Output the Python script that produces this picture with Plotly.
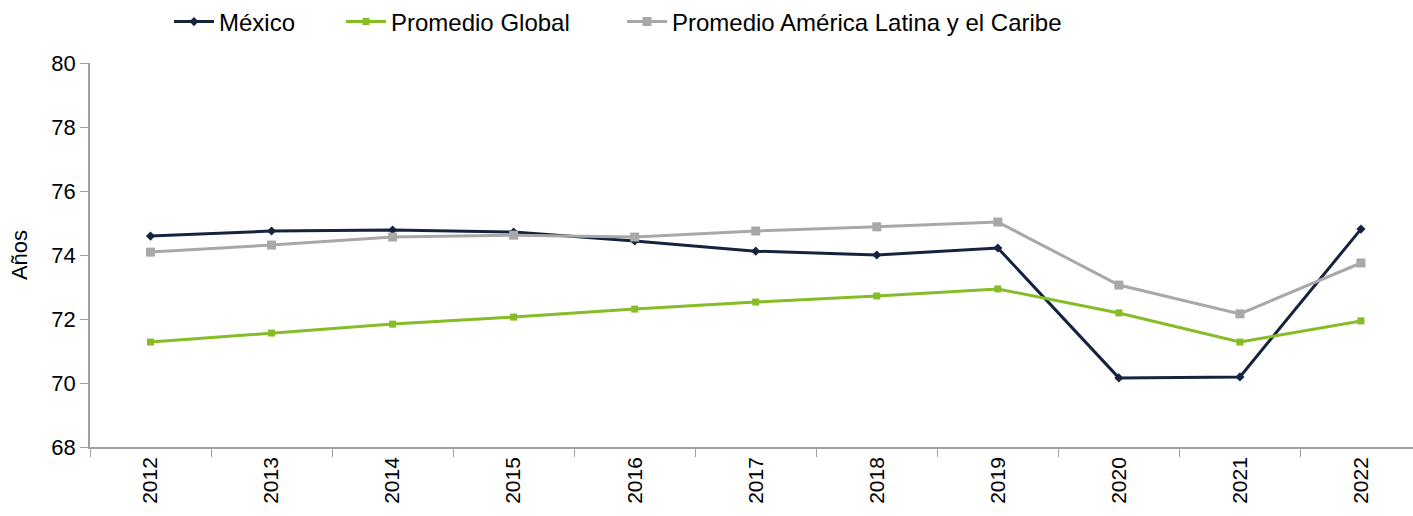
import plotly.graph_objects as go

years = ["2012", "2013", "2014", "2015", "2016", "2017", "2018", "2019", "2020", "2021", "2022"]
mexico = [74.59, 74.75, 74.78, 74.72, 74.44, 74.12, 74.00, 74.22, 70.16, 70.19, 74.81]
global_avg = [71.28, 71.56, 71.84, 72.06, 72.31, 72.53, 72.72, 72.94, 72.19, 71.28, 71.94]
lac_avg = [74.09, 74.31, 74.56, 74.62, 74.56, 74.75, 74.88, 75.03, 73.06, 72.16, 73.75]
y_ticks = [68, 70, 72, 74, 76, 78, 80]

FONT = "Liberation Sans, Arial, sans-serif"
W, H = 1413, 516

fig = go.Figure()
fig.add_trace(go.Scatter(
    x=years, y=mexico, name="México", mode="lines+markers",
    line=dict(color="#15233f", width=3),
    marker=dict(symbol="diamond", size=7, color="#15233f"),
    legend="legend",
))
fig.add_trace(go.Scatter(
    x=years, y=global_avg, name="Promedio Global", mode="lines+markers",
    line=dict(color="#86bc25", width=3),
    marker=dict(symbol="square", size=7, color="#86bc25"),
    legend="legend2",
))
fig.add_trace(go.Scatter(
    x=years, y=lac_avg, name="Promedio América Latina y el Caribe", mode="lines+markers",
    line=dict(color="#a8a8a8", width=3),
    marker=dict(symbol="square", size=9, color="#a8a8a8"),
    legend="legend3",
))

def leg(text_left_px):
    return dict(
        xref="container", yref="container",
        x=(text_left_px - 51) / W, xanchor="left",
        y=1 - 22 / H, yanchor="middle",
        orientation="h", itemwidth=40,
        font=dict(family=FONT, size=24, color="#000000"),
        bgcolor="rgba(0,0,0,0)",
    )

fig.update_layout(
    width=W, height=H,
    margin=dict(l=90, r=0, t=63, b=69, autoexpand=False),
    paper_bgcolor="white", plot_bgcolor="white",
    font=dict(family=FONT, size=21, color="#000000"),
    showlegend=True,
    legend=leg(220),
    legend2=leg(392),
    legend3=leg(673),
    xaxis=dict(
        type="category", range=[-0.5, 10.43], automargin=False,
        tickson="boundaries", ticks="outside", ticklen=8, tickcolor="#a0a0a0",
        showline=True, linecolor="#a0a0a0", linewidth=1.5,
        showgrid=False, tickangle=-90,
        tickfont=dict(family=FONT, size=21, color="#000000"),
    ),
    yaxis=dict(
        range=[68, 80], tickvals=y_ticks, automargin=False,
        ticks="outside", ticklen=8, tickcolor="#a0a0a0",
        showline=True, linecolor="#a0a0a0", linewidth=1.5,
        showgrid=False, zeroline=False,
        tickfont=dict(family=FONT, size=22, color="#000000"),
        title=dict(text="Años", font=dict(family=FONT, size=22, color="#000000"), standoff=18),
    ),
)

fig.write_html(
    "out.html",
    config={"displayModeBar": False},
    post_script="document.body.style.margin='0';document.body.style.overflow='hidden';",
)
